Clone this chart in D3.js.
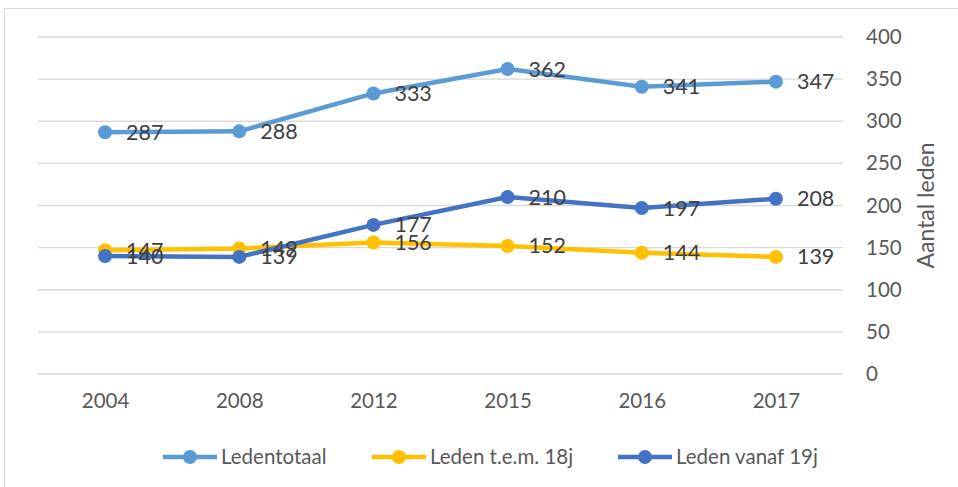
<!DOCTYPE html>
<meta charset="utf-8">
<script src="https://d3js.org/d3.v7.min.js"></script>
<style>
  body { margin: 0; background: #fff; }
  text { font-family: Lato, "Open Sans", sans-serif; }
</style>
<div id="chart"></div>
<script>
  // data
  var years = ["2004", "2008", "2012", "2015", "2016", "2017"];
  var ledentotaal = [287, 288, 333, 362, 341, 347];
  var tem18 = [147, 149, 156, 152, 144, 139];
  var vanaf19 = [140, 139, 177, 210, 197, 208];
  var yTicks = [0, 50, 100, 150, 200, 250, 300, 350, 400];

  var series = [
    { name: "Ledentotaal", values: ledentotaal, color: "#5B9BD5" },
    { name: "Leden t.e.m. 18j", values: tem18, color: "#FFC000" },
    { name: "Leden vanaf 19j", values: vanaf19, color: "#4472C4" }
  ];

  var W = 958, H = 487;
  var margin = { top: 37, right: 115, bottom: 113, left: 38 };

  var svg = d3.select("#chart").append("svg")
    .attr("width", W).attr("height", H);

  // chart border
  svg.append("rect")
    .attr("x", 4.5).attr("y", 8.5)
    .attr("width", W + 10).attr("height", H + 10)
    .attr("fill", "none").attr("stroke", "#D9D9D9");

  var x = d3.scalePoint().domain(years)
    .range([margin.left, W - margin.right]).padding(0.5);
  var y = d3.scaleLinear().domain([0, 400])
    .range([H - margin.bottom, margin.top]);

  // gridlines
  svg.append("g").selectAll("line").data(yTicks).enter().append("line")
    .attr("x1", margin.left).attr("x2", W - margin.right)
    .attr("y1", function (d) { return y(d); })
    .attr("y2", function (d) { return y(d); })
    .attr("stroke", "#D9D9D9").attr("stroke-width", 1.3);

  // right axis
  var yAxis = svg.append("g")
    .attr("transform", "translate(" + (W - margin.right + 23) + ",0)")
    .call(d3.axisRight(y).tickValues(yTicks).tickSize(0).tickPadding(0));
  yAxis.select(".domain").remove();
  yAxis.selectAll("text").attr("fill", "#595959").style("font-size", "20.5px");

  svg.append("text")
    .attr("transform", "translate(934," + y(200) + ")rotate(-90)")
    .attr("text-anchor", "middle")
    .attr("fill", "#595959").style("font-size", "23px")
    .text("Aantal leden");

  // bottom axis
  var xAxis = svg.append("g")
    .attr("transform", "translate(0," + (H - margin.bottom + 19) + ")")
    .call(d3.axisBottom(x).tickSize(0).tickPadding(0));
  xAxis.select(".domain").remove();
  xAxis.selectAll("text").attr("fill", "#595959").style("font-size", "20.5px");

  var line = d3.line()
    .x(function (d, i) { return x(years[i]); })
    .y(function (d) { return y(d); });

  series.forEach(function (s) {
    var g = svg.append("g");
    g.append("path").datum(s.values)
      .attr("d", line).attr("fill", "none")
      .attr("stroke", s.color).attr("stroke-width", 4.5)
      .attr("stroke-linejoin", "round");
    g.selectAll("circle").data(s.values).enter().append("circle")
      .attr("cx", function (d, i) { return x(years[i]); })
      .attr("cy", function (d) { return y(d); })
      .attr("r", 7).attr("fill", s.color);
  });

  // data labels, right of the points
  series.forEach(function (s) {
    svg.append("g").selectAll("text").data(s.values).enter().append("text")
      .attr("x", function (d, i) { return x(years[i]) + 21; })
      .attr("y", function (d) { return y(d); })
      .attr("dy", "0.35em")
      .attr("fill", "#404040").style("font-size", "21.5px")
      .text(function (d) { return d; });
  });

  // legend
  var legX = [163, 372, 618];
  var leg = svg.append("g").selectAll("g").data(series).enter().append("g")
    .attr("transform", function (d, i) { return "translate(" + legX[i] + ",457)"; });
  leg.append("line").attr("x1", 0).attr("x2", 54)
    .attr("stroke", function (d) { return d.color; }).attr("stroke-width", 4.5);
  leg.append("circle").attr("cx", 27).attr("r", 7)
    .attr("fill", function (d) { return d.color; });
  leg.append("text").attr("x", 58).attr("dy", "0.35em")
    .attr("fill", "#595959").style("font-size", "20.5px")
    .text(function (d) { return d.name; });
</script>
